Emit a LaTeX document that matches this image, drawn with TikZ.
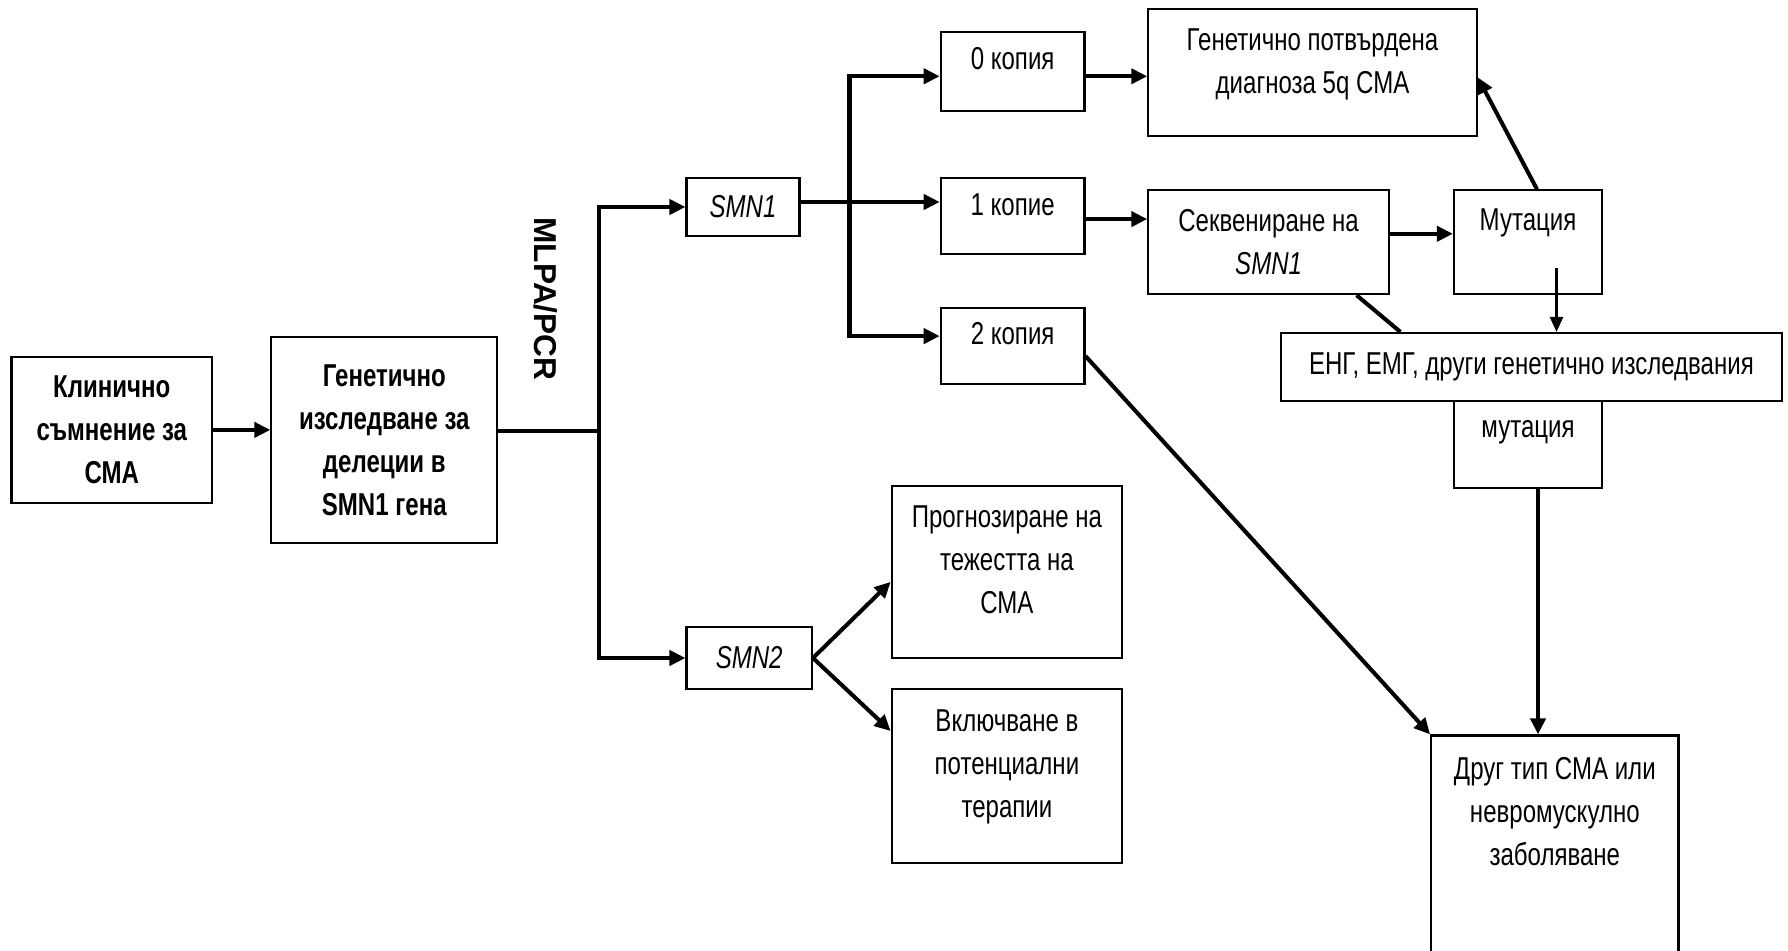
\documentclass[tikz,border=0pt]{standalone}
\usepackage{fontspec}
\setmainfont[FakeStretch=0.76]{Liberation Sans}
\newfontfamily\widefont{Liberation Sans}
\usetikzlibrary{calc}
\usetikzlibrary{arrows.meta}

\begin{document}
\begin{tikzpicture}[
  box/.style={draw, line width=.6pt, align=center, inner sep=2pt, font=\fontsize{9}{12.2}\selectfont},
  boldbox/.style={box, font=\fontsize{9}{12.2}\selectfont\bfseries},
  arr/.style={line width=1.15pt, -{Triangle[length=1.6mm,width=1.5mm]}},
  thinarr/.style={line width=.75pt, -{Triangle[length=1.5mm,width=1.3mm]}},
  link/.style={line width=1.15pt}]
\useasboundingbox (0,0) rectangle (17.88,-9.51);

\node[boldbox, minimum width=2.007cm, minimum height=1.46cm] (klin) at (1.118,-4.299) {Клинично\\съмнение за\\СМА};
\node[boldbox, minimum width=2.258cm, minimum height=2.053cm] (gen) at (3.843,-4.401) {Генетично\\изследване за\\делеции в\\SMN1 гена};
\node[rotate=-90, font=\widefont\fontsize{9}{11}\selectfont\bfseries] (mlpa) at (5.46,-2.99) {MLPA/PCR};

\node[box, minimum width=1.13cm, minimum height=.58cm] (smn1) at (7.43,-2.07) {\itshape SMN1};
\node[box, minimum width=1.254cm, minimum height=.616cm] (smn2) at (7.492,-6.58) {\itshape SMN2};

\node[box, minimum width=1.437cm, minimum height=.787cm, text depth=.25cm] (k0) at (10.126,-.713) {0 копия};
\node[box, minimum width=1.437cm, minimum height=.764cm, text depth=.23cm] (k1) at (10.126,-2.161) {1 копие};
\node[box, minimum width=1.437cm, minimum height=.764cm, text depth=.25cm] (k2) at (10.126,-3.461) {2 копия};

\node[box, minimum width=3.284cm, minimum height=1.266cm, text depth=.23cm] (diag) at (13.125,-.724) {Генетично потвърдена\\диагноза 5q СМА};
\node[box, minimum width=2.406cm, minimum height=1.038cm] (seq) at (12.686,-2.423) {Секвениране на\\\textit{SMN1}};
\node[box, minimum width=1.482cm, minimum height=1.038cm, text depth=.45cm] (mut) at (15.28,-2.423) {Мутация};
\node[box, minimum width=5.017cm, minimum height=.684cm] (eng) at (15.314,-3.672) {ЕНГ, ЕМГ, други генетично изследвания};
\node[box, minimum width=1.482cm, minimum height=.867cm, text depth=.31cm] (mut2) at (15.28,-4.447) {мутация};

\node[box, minimum width=2.304cm, minimum height=1.722cm, text depth=.25cm] (prog) at (10.069,-5.719) {Прогнозиране на\\тежестта на\\СМА};
\node[box, minimum width=2.304cm, minimum height=1.745cm, text depth=.25cm] (incl) at (10.069,-7.76) {Включване в\\потенциални\\терапии};
\node[box, minimum width=2.474cm, inner ysep=.22cm, text depth=3cm, anchor=north] (other) at (15.548,-7.344) {Друг тип СМА или\\невромускулно\\заболяване};

\coordinate (split) at (5.987,-4.31);
\coordinate (br) at (8.495,-2.02);
\coordinate (mtip) at (15.565,-2.68);

\draw[arr] (klin) -- (gen.west |- klin);
\draw[link] (gen.east |- split) -- (split);
\foreach \s in {smn1,smn2} \draw[arr] (split) |- (\s);
\draw[link] (smn1.east |- br) -- (br);
\draw[arr] (br) -- (br -| k1.west);
\draw[arr] (br) |- ([yshift=-.05cm]k0.west);
\draw[arr] (br) |- ([yshift=.1cm]k2.west);
\draw[arr] ([yshift=-.05cm]k0.east) -- ([yshift=-.05cm]k0.east -| diag.west);
\draw[arr] ([yshift=-.03cm]k1.east) -- ([yshift=-.03cm]k1.east -| seq.west);
\draw[arr] ([yshift=.085cm]seq.east) -- ([yshift=.085cm]seq.east -| mut.west);
\draw[arr] ([xshift=.09cm]mut.north) -- ([yshift=-.05cm]diag.east);
\draw[link] ([xshift=.88cm]seq.south) -- ([xshift=-1.31cm]eng.north);
\draw[thinarr] (mtip) -- (mtip |- eng.north);
\draw[arr] ($(mut2.south)+(.1,0)$) -- ($(mut2.south |- other.north)+(.1,0)$);
\draw[arr] ([yshift=-.1cm]k2.east) -- (other.north west);
\draw[arr] (smn2.east) -- ([yshift=-.1cm]prog.west);
\draw[arr] (smn2.east) -- ([yshift=.45cm]incl.west);

\end{tikzpicture}
\end{document}
